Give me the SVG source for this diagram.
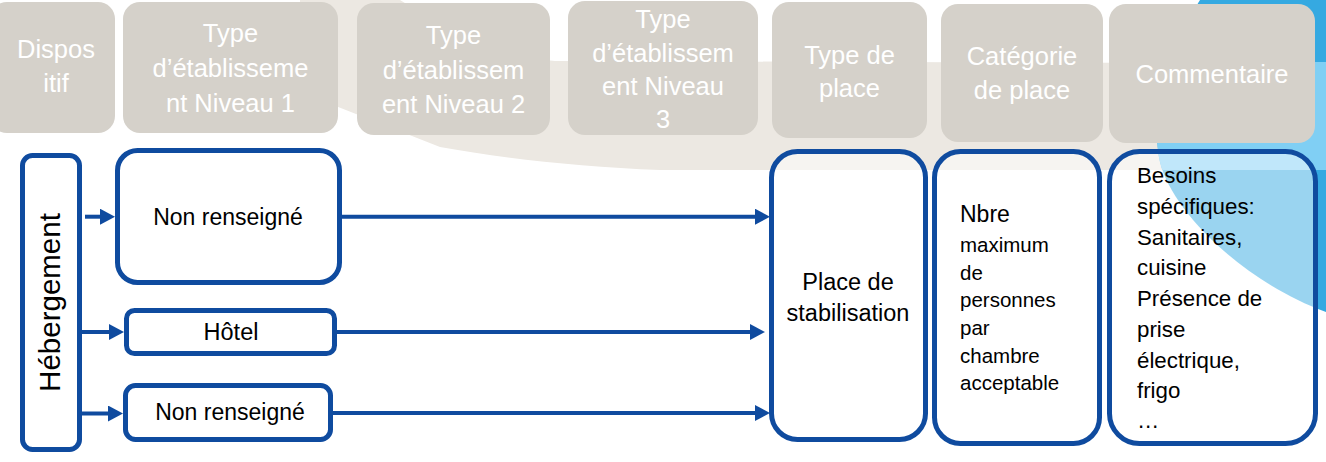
<svg xmlns="http://www.w3.org/2000/svg" width="1326" height="462" viewBox="0 0 1326 462">
  <style>
    .hdr rect { fill: #D5D1CA; }
    .hdr text { fill: #FFFFFF; font-family: "Liberation Sans", Arial, sans-serif; font-size: 25.5px; text-anchor: middle; }
    .box rect { fill: #FFFFFF; fill-opacity: 0.5; stroke: #0F4B9F; stroke-width: 5; }
    .box text { fill: #000000; font-family: "Liberation Sans", Arial, sans-serif; font-size: 23.5px; }
    .mid { text-anchor: middle; }
    .conn line { stroke: #0F4B9F; stroke-width: 4; marker-end: url(#arr); }
  </style>
  <defs>
    <marker id="arr" viewBox="0 0 15 16" refX="0" refY="8" markerWidth="15" markerHeight="16" markerUnits="userSpaceOnUse" orient="auto">
      <path d="M0,0 L15,8 L0,16 Z" fill="#0F4B9F"/>
    </marker>
    <clipPath id="band">
      <rect x="0" y="62" width="1326" height="108"/>
    </clipPath>
  </defs>

  <!-- background -->
  <rect x="0" y="0" width="1326" height="462" fill="#FFFFFF"/>
  <path d="M300,0 L400,0 C440,25 490,55 555,61 L1220,63 L1220,170 L660,170 C580,167 500,158 440,147 L300,92 Z" fill="#ECE8E2"/>
  <path d="M1200,0 C1168,50 1150,120 1160,162 C1172,212 1245,283 1326,312 L1326,0 Z" fill="#35A9E1"/>
  <path d="M1200,0 C1168,50 1150,120 1160,162 C1172,212 1245,283 1326,312 L1326,0 Z" fill="#80CFF4" clip-path="url(#band)"/>

  <!-- header nodes -->
  <g id="h-dispositif" class="hdr">
    <rect x="-10" y="2" width="125" height="131" rx="17"/>
    <text x="56" y="58">Dispos</text>
    <text x="56" y="92">itif</text>
  </g>
  <g id="h-niveau1" class="hdr">
    <rect x="123" y="2" width="215" height="131" rx="17"/>
    <text x="230.5" y="41.7">Type</text>
    <text x="230.5" y="76.7">d’établisseme</text>
    <text x="230.5" y="111.7">nt  Niveau 1</text>
  </g>
  <g id="h-niveau2" class="hdr">
    <rect x="357" y="3" width="193" height="132" rx="17"/>
    <text x="453.5" y="44">Type</text>
    <text x="453.5" y="79">d’établissem</text>
    <text x="453.5" y="113">ent Niveau 2</text>
  </g>
  <g id="h-niveau3" class="hdr">
    <rect x="568" y="1" width="190" height="134" rx="17"/>
    <text x="663" y="28">Type</text>
    <text x="663" y="62">d’établissem</text>
    <text x="663" y="95">ent Niveau</text>
    <text x="663" y="128">3</text>
  </g>
  <g id="h-typeplace" class="hdr">
    <rect x="772" y="2" width="155" height="136" rx="17"/>
    <text x="849.5" y="64">Type de</text>
    <text x="849.5" y="97">place</text>
  </g>
  <g id="h-categorie" class="hdr">
    <rect x="941" y="4" width="162" height="138" rx="17"/>
    <text x="1022" y="65">Catégorie</text>
    <text x="1022" y="99">de place</text>
  </g>
  <g id="h-commentaire" class="hdr">
    <rect x="1109" y="4" width="206" height="139" rx="17"/>
    <text x="1212" y="83">Commentaire</text>
  </g>

  <!-- connectors -->
  <g id="connectors" class="conn">
    <line x1="85" y1="216.7" x2="100" y2="216.7"/>
    <line x1="82" y1="332" x2="109" y2="332"/>
    <line x1="82" y1="413.5" x2="108" y2="413.5"/>
    <line x1="342" y1="216.7" x2="755" y2="216.7"/>
    <line x1="337" y1="332" x2="750" y2="332"/>
    <line x1="332" y1="413" x2="755" y2="413"/>
  </g>

  <!-- content nodes -->
  <g id="n-hebergement" class="box">
    <rect x="22.5" y="155.5" width="57" height="294" rx="10"/>
    <text transform="translate(60,302.5) rotate(-90)" class="mid" style="font-size:29.5px">Hébergement</text>
  </g>
  <g id="n-nonrens1" class="box">
    <rect x="117.5" y="150.5" width="222" height="132" rx="20"/>
    <text x="228" y="225" class="mid" style="font-size:23px">Non renseigné</text>
  </g>
  <g id="n-hotel" class="box">
    <rect x="126.5" y="310.5" width="208" height="43" rx="8"/>
    <text x="231" y="340" class="mid">Hôtel</text>
  </g>
  <g id="n-nonrens2" class="box">
    <rect x="125.5" y="385.5" width="205" height="54" rx="10"/>
    <text x="230" y="420" class="mid" style="font-size:23px">Non renseigné</text>
  </g>
  <g id="n-place" class="box">
    <rect x="771.5" y="151.5" width="154" height="288" rx="26"/>
    <text x="848" y="290" class="mid">Place de</text>
    <text x="848" y="321" class="mid">stabilisation</text>
  </g>
  <g id="n-categorie" class="box">
    <rect x="934.5" y="151.5" width="165" height="292" rx="26"/>
    <text x="960" y="222" style="font-size:23px">Nbre</text>
    <text x="960" y="252" style="font-size:20.5px">maximum</text>
    <text x="960" y="279.5" style="font-size:20.5px">de</text>
    <text x="960" y="307" style="font-size:20.5px">personnes</text>
    <text x="960" y="335" style="font-size:20.5px">par</text>
    <text x="960" y="362.5" style="font-size:20.5px">chambre</text>
    <text x="960" y="390" style="font-size:20.5px">acceptable</text>
  </g>
  <g id="n-commentaire" class="box">
    <rect x="1109.5" y="151.5" width="206" height="292" rx="30"/>
    <text x="1137" y="183" style="font-size:22.3px">Besoins</text>
    <text x="1137" y="214" style="font-size:22.3px">spécifiques:</text>
    <text x="1137" y="245" style="font-size:22.3px">Sanitaires,</text>
    <text x="1137" y="275" style="font-size:22.3px">cuisine</text>
    <text x="1137" y="306" style="font-size:22.3px">Présence de</text>
    <text x="1137" y="337" style="font-size:22.3px">prise</text>
    <text x="1137" y="368" style="font-size:22.3px">électrique,</text>
    <text x="1137" y="398" style="font-size:22.3px">frigo</text>
    <text x="1137" y="428" style="font-size:22.3px">…</text>
  </g>
</svg>
